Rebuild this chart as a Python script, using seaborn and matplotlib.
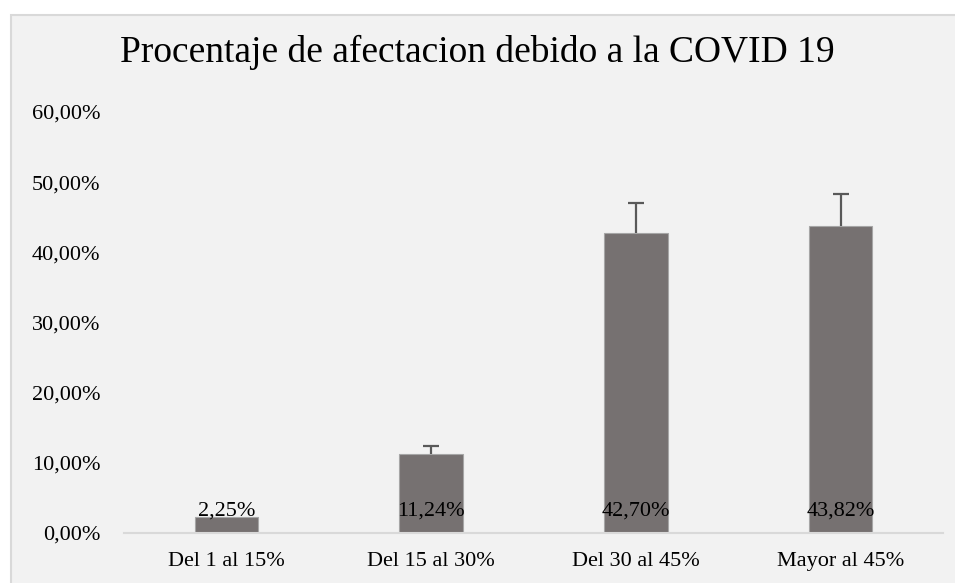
import pandas as pd
import numpy as np
import matplotlib
matplotlib.use("Agg")
import matplotlib.pyplot as plt
import seaborn as sns
from matplotlib.patches import Rectangle

categories = ["Del 1 al 15%", "Del 15 al 30%", "Del 30 al 45%", "Mayor al 45%"]
values = [2.25, 11.24, 42.70, 43.82]
errors_up = [0.0, 1.2, 4.3, 4.5]
labels = ["2,25%", "11,24%", "42,70%", "43,82%"]

sns.set_style("white")
plt.rcParams["font.family"] = ["Liberation Serif", "DejaVu Serif"]

df = pd.DataFrame({"Categoria": categories, "Valor": values, "Error": errors_up})

fig = plt.figure(figsize=(9.55, 5.83), dpi=100)
fig.patch.set_facecolor("white")
# chart area panel
fig.patches.append(Rectangle((11 / 955, -0.05), 1.0, 1 - 15 / 583 + 0.05,
                             transform=fig.transFigure, facecolor="#f2f2f2",
                             edgecolor="#d9d9d9", linewidth=1.5, zorder=-5))

ax = fig.add_axes([124 / 955, 50 / 583, 819 / 955, 421 / 583])
ax.set_zorder(2)
ax.set_facecolor("none")

sns.barplot(data=df, x="Categoria", y="Valor", color="#767171", width=0.31,
            edgecolor="#a6a6a6", linewidth=0.8, saturation=1, ax=ax)

# plus-only error bars (no cap at the bar top)
pos = np.arange(len(values))
vals = np.array(values)
errs = np.array(errors_up)
m = errs > 0
ax.errorbar(pos[m], vals[m], yerr=[np.zeros(m.sum()), errs[m]],
            fmt="none", ecolor="#595959", elinewidth=1.6, capsize=0)
ax.plot(pos[m], vals[m] + errs[m], linestyle="none", marker="_",
        markersize=12, markeredgewidth=1.6, color="#595959")

for i, lab in enumerate(labels):
    ax.annotate(lab, (i, 0), xytext=(0, 15.5), textcoords="offset points",
                ha="center", va="center", fontsize=16, color="black")

ax.set_xlim(-0.5, len(categories) - 0.5)
ax.set_ylim(0, 60)
ax.set_yticks(range(0, 61, 10))
ax.set_yticklabels([f"{v},00%" for v in range(0, 61, 10)])
ax.set_xlabel("")
ax.set_ylabel("")
ax.tick_params(axis="both", length=0, labelsize=16, colors="black")
ax.tick_params(axis="x", pad=14)
ax.tick_params(axis="y", pad=17)

for s in ["top", "right", "left"]:
    ax.spines[s].set_visible(False)
ax.spines["bottom"].set_color("#d9d9d9")
ax.spines["bottom"].set_linewidth(1.5)

fig.text(0.5, 1 - 52 / 583, "Procentaje de afectacion debido a la COVID 19",
         ha="center", va="center", fontsize=27, color="black", zorder=3)

fig.savefig("out.png", dpi=100)
